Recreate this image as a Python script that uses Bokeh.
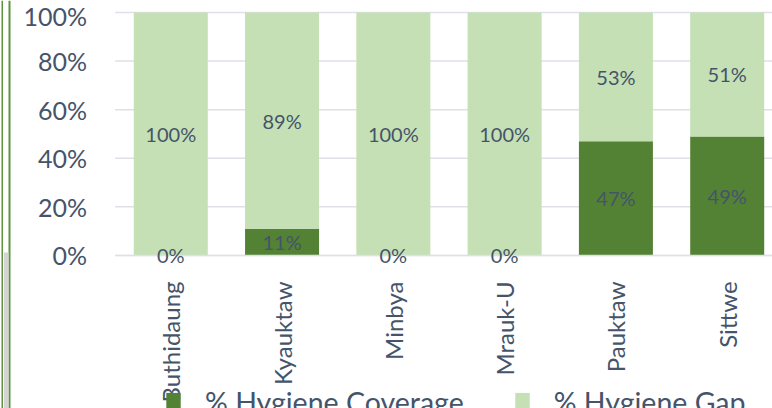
from math import pi
from bokeh.plotting import figure
from bokeh.models import (ColumnDataSource, Range1d, FixedTicker, NumeralTickFormatter,
                          LabelSet, Legend, LegendItem, BoxAnnotation)
from bokeh.core.properties import value
from bokeh.embed import file_html
from bokeh.resources import INLINE

categories = ["Buthidaung", "Kyauktaw", "Minbya", "Mrauk-U", "Pauktaw", "Sittwe"]
coverage = [0, 11, 0, 0, 47, 49]      # % Hygiene Coverage
gap = [100, 89, 100, 100, 53, 51]     # % Hygiene Gap
y_ticks = [0, 0.2, 0.4, 0.6, 0.8, 1.0]

DARK = "#548235"
LIGHT = "#C5E0B4"
TXT = "#44546A"
GRID = "#DDE1E7"
FONT = "Lato"

# view window (frame spans whole canvas; axes drawn at fixed data locations)
X0, X1 = -1.53, 5.407
Y0, Y1 = -0.63, 1.0494
CAT_LEFT = -0.5

idx = list(range(len(categories)))
cov_f = [c / 100 for c in coverage]
gap_f = [g / 100 for g in gap]
src = ColumnDataSource(dict(
    x=idx,
    cov=cov_f,
    top=[c + g for c, g in zip(cov_f, gap_f)],
    cov_mid=[c / 2 for c in cov_f],
    gap_mid=[c + g / 2 for c, g in zip(cov_f, gap_f)],
    cov_lbl=[f"{c}%" for c in coverage],
    gap_lbl=[f"{g}%" for g in gap],
))
grid_src = ColumnDataSource(dict(x0=[CAT_LEFT] * len(y_ticks), x1=[X1] * len(y_ticks),
                                 y=y_ticks))

p = figure(width=772, height=408, output_backend="svg", toolbar_location=None,
           x_range=Range1d(X0, X1), y_range=Range1d(Y0, Y1),
           min_border=0, min_border_left=0, min_border_right=0, min_border_top=0,
           min_border_bottom=0, outline_line_color=None)
p.title.visible = False

p.segment(x0="x0", x1="x1", y0="y", y1="y", source=grid_src,
          line_color=GRID, line_width=1.5, level="underlay")

r_cov = p.vbar(x="x", bottom=0, top="cov", width=0.665, source=src,
               fill_color=DARK, line_color=None)
r_gap = p.vbar(x="x", bottom="cov", top="top", width=0.665, source=src,
               fill_color=LIGHT, line_color=None)

for ycol, tcol in (("cov_mid", "cov_lbl"), ("gap_mid", "gap_lbl")):
    p.add_layout(LabelSet(x="x", y=ycol, text=tcol, source=src,
                          text_align="center", text_baseline="middle",
                          text_font=value(FONT), text_font_size="20px",
                          text_color=TXT))

# axes
p.yaxis.fixed_location = CAT_LEFT
p.yaxis.ticker = FixedTicker(ticks=y_ticks)
p.yaxis.formatter = NumeralTickFormatter(format="0%")
p.yaxis.axis_line_color = None
p.yaxis.major_tick_line_color = None
p.yaxis.minor_tick_line_color = None
p.yaxis.major_label_standoff = 22
p.yaxis.major_label_text_font = FONT
p.yaxis.major_label_text_font_size = "25px"
p.yaxis.major_label_text_color = TXT

p.xaxis.fixed_location = 0
p.xaxis.bounds = (CAT_LEFT, X1)
p.xaxis.ticker = FixedTicker(ticks=idx)
p.xaxis.major_label_overrides = {i: c for i, c in zip(idx, categories)}
p.xaxis.major_label_orientation = pi / 2
p.xaxis.axis_line_color = GRID
p.xaxis.axis_line_width = 1.5
p.xaxis.major_tick_line_color = None
p.xaxis.minor_tick_line_color = None
p.xaxis.major_label_standoff = 20
p.xaxis.major_label_text_font = FONT
p.xaxis.major_label_text_font_size = "24px"
p.xaxis.major_label_text_color = TXT

p.xgrid.visible = False
p.ygrid.visible = False

legend = Legend(items=[LegendItem(label="% Hygiene Coverage", renderers=[r_cov]),
                       LegendItem(label="% Hygiene Gap", renderers=[r_gap])],
                orientation="horizontal", location=(164, -11),
                glyph_width=18, glyph_height=24, label_standoff=23, spacing=49,
                padding=0, margin=0, border_line_color=None,
                background_fill_alpha=0,
                label_text_font=FONT, label_text_font_size="28.5px",
                label_text_color=TXT)
p.add_layout(legend, "center")

# left frame decoration of the original sheet (screen units, y measured upward)
for l, r, t, b, c in ((1, 2.5, 408, 0, "#5E9440"), (8, 10, 408, 0, "#5E9440"),
                      (3.5, 8, 156, 0, "#D4D4D4")):
    p.add_layout(BoxAnnotation(left=l, right=r, top=t, bottom=b, left_units="screen",
                               right_units="screen", top_units="screen",
                               bottom_units="screen", fill_color=c, fill_alpha=1,
                               line_color=None, level="overlay"))

open("out.html", "w").write(file_html(p, INLINE))
